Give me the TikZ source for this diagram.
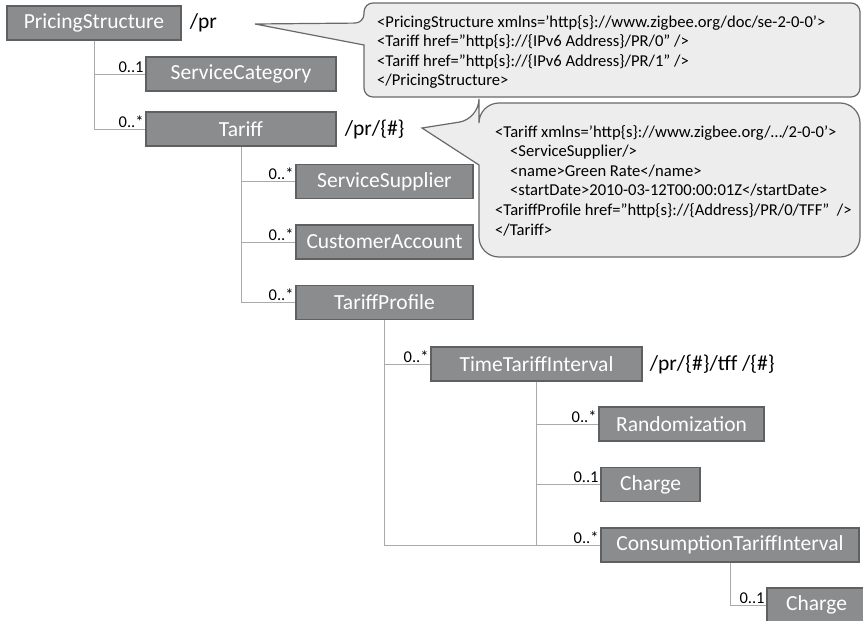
\documentclass[tikz,border=0pt]{standalone}
\usepackage{fontspec}
\setmainfont{Carlito}
\usepackage{tikz}

\definecolor{boxfill}{RGB}{138,140,142}
\definecolor{boxline}{RGB}{95,96,98}
\definecolor{wirecol}{RGB}{170,170,170}
\definecolor{notefill}{RGB}{237,237,237}
\definecolor{noteline}{RGB}{105,105,105}

\begin{document}
\begin{tikzpicture}[x=1pt,y=-1pt,
  box/.style={draw=boxline,line width=1.4pt,fill=boxfill,text=white,
    font=\fontsize{21.5}{26}\selectfont,inner sep=0pt,minimum height=34pt},
  mult/.style={anchor=south east,inner sep=1.5pt,font=\fontsize{16.5}{20}\selectfont},
  uri/.style={anchor=west,inner sep=0pt,font=\fontsize{21.5}{25}\selectfont},
  wire/.style={draw=wirecol,line width=0.9pt},
  note/.style={draw=noteline,fill=notefill,line width=1.2pt},
  notetext/.style={anchor=north west,align=left,inner sep=0pt,
    font=\fontsize{16.6}{19.6}\selectfont}]
\useasboundingbox (0,0) rectangle (863,621);
\clip (0,0) rectangle (863,621);

% xml callouts
\draw[note] (364,45) [rounded corners=9pt] -- (364,97) -- (860,97) -- (860,3)
  -- (364,3) -- (364,23) [sharp corners] -- (255,24) -- cycle;
\node[notetext] (xmlpr) at (377,15) {%
<PricingStructure xmlns=’http\{s\}://www.zigbee.org/doc/se-2-0-0’>\\
<Tariff href=”http\{s\}://\{IPv6 Address\}/PR/0” />\\
<Tariff href=”http\{s\}://\{IPv6 Address\}/PR/1” />\\
</PricingStructure>};

\draw[note] (479,165) [rounded corners=20pt] -- (479,257) -- (860,257) -- (860,103)
  -- (479,103) -- (479,119) [sharp corners] -- (422,128) -- cycle;
\node[notetext] (xmltf) at (495,125) {%
<Tariff xmlns=’http\{s\}://www.zigbee.org/…/2-0-0’>\\
\hspace*{15pt}<ServiceSupplier/>\\
\hspace*{15pt}<name>Green Rate</name>\\
\hspace*{15pt}<startDate>2010-03-12T00:00:01Z</startDate>\\
<TariffProfile href=”http\{s\}://\{Address\}/PR/0/TFF”\ \ />\\
</Tariff>};

% resource tree
\node[box,minimum width=174pt] (ps) at (94,23) {PricingStructure};
\node[box,minimum width=190pt] (sc) at (241,74) {ServiceCategory};
\node[box,minimum width=190pt] (tf) at (241,129) {Tariff};
\node[box,minimum width=177pt] (ss) at (384.5,181.5) {ServiceSupplier};
\node[box,minimum width=177pt] (ca) at (384.5,242) {CustomerAccount};
\node[box,minimum width=177pt] (tp) at (384.5,302.5) {TariffProfile};
\node[box,minimum width=211pt] (tti) at (536.5,364) {TimeTariffInterval};
\node[box,minimum width=165pt] (rnd) at (681.5,424) {Randomization};
\node[box,minimum width=99pt] (chg) at (650.5,484.5) {Charge};
\node[box,minimum width=258pt] (cti) at (730,545) {ConsumptionTariffInterval};
\node[box,minimum width=99pt] (cchg) at (816.5,605) {Charge};

\node[uri] (prurl) at ([xshift=8pt]ps.east) {/pr};
\node[uri] (tfurl) at ([xshift=8pt]tf.east) {/pr/\{\#\}};
\node[uri] (ttiurl) at ([xshift=7pt]tti.east) {/pr/\{\#\}/tff /\{\#\}};

\draw[wire] (ps.south) |- (sc.west);
\draw[wire] (ps.south) |- (tf.west);
\draw[wire] (tf.south) |- (ss.west);
\draw[wire] (tf.south) |- (ca.west);
\draw[wire] (tf.south) |- (tp.west);
\draw[wire] (tp.south) |- (tti.west);
\draw[wire] (tp.south) |- (cti.west);
\draw[wire] (tti.south) |- (rnd.west);
\draw[wire] (tti.south) |- (chg.west);
\draw[wire] (tti.south) |- (cti.west);
\draw[wire] (cti.south) |- (cchg.west);

\node[mult] at (sc.west) {0..1};
\node[mult] at (tf.west) {0..*};
\node[mult] at (ss.west) {0..*};
\node[mult] at (ca.west) {0..*};
\node[mult] at (tp.west) {0..*};
\node[mult] at (tti.west) {0..*};
\node[mult] at (rnd.west) {0..*};
\node[mult] at (chg.west) {0..1};
\node[mult] at (cti.west) {0..*};
\node[mult] at (cchg.west) {0..1};
\end{tikzpicture}
\end{document}
